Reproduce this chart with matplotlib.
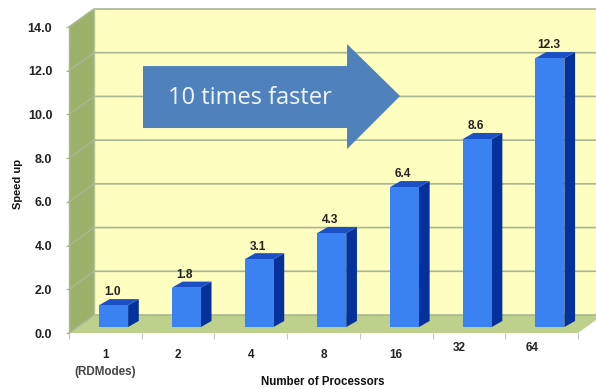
import matplotlib
matplotlib.use("Agg")
import matplotlib.pyplot as plt
import numpy as np

categories = ["1\n(RDModes)", "2", "4", "8", "16", "32", "64"]
speedup = [1.0, 1.8, 3.1, 4.3, 6.4, 8.6, 12.3]
yticks = [0, 2, 4, 6, 8, 10, 12, 14]

# pixels -> data units: 72.7 px per category, 21.86 px per y unit
WALL_DX = 25 / 72.7
WALL_DY = 18 / 21.86
BAR_W = 29 / 72.7
D_FRONT = 0.33
D_BACK = 0.67
YMAX = 14
N = len(categories)


def depth(x, y, d):
    # move a point into the chart by d (0 front, 1 back)
    return x + d * WALL_DX, y + d * WALL_DY


plt.rcParams["font.family"] = ["Liberation Sans", "DejaVu Sans"]
fig = plt.figure(figsize=(5.96, 3.89), dpi=100)
ax = fig.add_axes([69 / 596, (389 - 333) / 389, 509 / 596, 306 / 389])
ax.set_xlim(0, N)
ax.set_ylim(0, YMAX)
for s in ax.spines.values():
    s.set_visible(False)

# back wall, side wall and floor
ax.fill([WALL_DX, N + WALL_DX, N + WALL_DX, WALL_DX],
        [WALL_DY, WALL_DY, YMAX + WALL_DY, YMAX + WALL_DY],
        color="#FEFEC0", lw=0, clip_on=False, zorder=1)
ax.fill([0, WALL_DX, WALL_DX, 0], [0, WALL_DY, YMAX + WALL_DY, YMAX],
        color="#9CB26A", lw=0, clip_on=False, zorder=1)
ax.fill([0, N, N + WALL_DX, WALL_DX], [0, 0, WALL_DY, WALL_DY],
        color="#BDD08C", lw=0, clip_on=False, zorder=1)

# grid lines, running up the side wall and along the back
for v in yticks:
    ax.plot([0, WALL_DX, N + WALL_DX], [v, v + WALL_DY, v + WALL_DY],
            color="#A9B690", lw=1.2, clip_on=False, zorder=2)
ax.plot([0, 0], [0, YMAX], color="#A9B690", lw=1, zorder=2, clip_on=False)
ax.plot([WALL_DX, WALL_DX], [WALL_DY, YMAX + WALL_DY], color="#B5C39A", lw=1,
        zorder=2, clip_on=False)

# 3D bars
centers = np.arange(N) + 0.5
for c, v in zip(centers, speedup):
    l, b = depth(c - BAR_W / 2, 0, D_FRONT)
    r = l + BAR_W
    t = b + v
    shift = (D_BACK - D_FRONT)
    dx, dy = shift * WALL_DX + 0.03, shift * WALL_DY
    ax.fill([r, r + dx, r + dx, r], [b, b + dy, t + dy, t],
            color="#04319C", lw=0, zorder=3)
    ax.fill([l, r, r + dx, l + dx], [t, t, t + dy, t + dy],
            color="#1A50C4", lw=0, zorder=3)
    ax.bar(l + BAR_W / 2, v, BAR_W, bottom=b, color="#3A82F2", lw=0, zorder=4)
    ax.text(l + BAR_W / 2 - 0.02, t + dy + 0.03, f"{v:.1f}", ha="center",
            va="bottom", fontsize=8.6, fontweight="bold", color="#222222", zorder=5)

# big arrow
arrow_x = np.array([143, 347, 347, 400, 347, 347, 143])
arrow_y = np.array([66, 66, 44, 96, 149, 128, 128])
ax.fill((arrow_x - 69) / 72.7, (333 - arrow_y) / 21.86, color="#4F81BD", lw=0, zorder=6)
ax.text((250 - 69) / 72.7, (333 - 98) / 21.86, "10 times faster", color="#F2F6FA",
        fontsize=17, family=["Open Sans", "DejaVu Sans"], ha="center", va="center", zorder=7)

# axes
ax.set_yticks(yticks)
ax.set_yticklabels([f"{v:.1f}" for v in yticks], fontsize=9, fontweight="bold", color="#222222",
                   y=-0.004)
ax.tick_params(axis="y", length=2, width=0.8, color="#A9B690", pad=10)
ax.set_xticks(range(N + 1))
ax.set_xticklabels([])
ax.tick_params(axis="x", length=4, width=0.8, color="#C4C4C4")
for c, lab in zip(centers, categories):
    parts = lab.split("\n")
    # the last two labels sit higher and further left in the original
    moved = lab in ("32", "64")
    py = 348 if moved else 355
    px = c - 10 / 72.7 if moved else c
    ax.text(px, (333 - py) / 21.86, parts[0], ha="center", va="center", fontsize=8.5,
            fontweight="bold", color="#222222", clip_on=False)
    if len(parts) > 1:
        ax.text(c, (333 - 372) / 21.86, parts[1], ha="center", va="center", fontsize=8.4,
                fontweight="bold", color="#444444", clip_on=False)

fig.text(323 / 596, 1 - 382 / 389, "Number of Processors", ha="center", va="center",
         fontsize=8.3, fontweight="bold", color="#111111")
fig.text(18 / 596, 1 - 184 / 389, "Speed up", ha="center", va="center", rotation=90,
         fontsize=8, fontweight="bold", color="#111111")

fig.savefig("out.png", dpi=100)
